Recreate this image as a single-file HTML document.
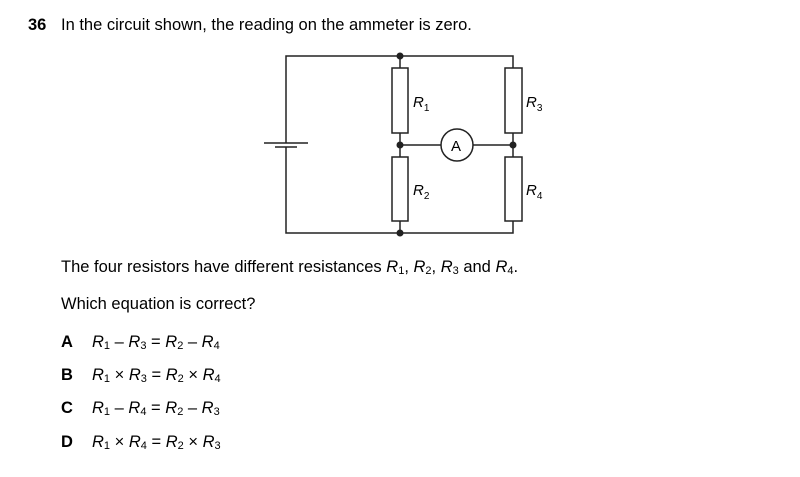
<!DOCTYPE html>
<html><head><meta charset="utf-8"><style>
html,body{margin:0;padding:0;background:#fff}
svg{display:block}
text{font-family:"Liberation Sans",Arial,sans-serif;fill:#000}
.i{font-style:italic}
</style></head><body>
<svg width="800" height="477" viewBox="0 0 800 477" xmlns="http://www.w3.org/2000/svg">
<text x="28" y="30" font-size="16.5" font-weight="bold">36</text>
<text x="61" y="30" font-size="16.5">In the circuit shown, the reading on the ammeter is zero.</text>
<g stroke="#222" stroke-width="1.5" fill="none">
<polyline points="286,143 286,56 513,56 513,68"/>
<polyline points="286,147 286,233 513,233 513,221"/>
<line x1="264" y1="143" x2="308" y2="143"/>
<line x1="275" y1="147" x2="297" y2="147"/>
<line x1="400" y1="56" x2="400" y2="68"/>
<line x1="400" y1="133" x2="400" y2="157"/>
<line x1="400" y1="221" x2="400" y2="233"/>
<line x1="513" y1="133" x2="513" y2="157"/>
<line x1="400" y1="145" x2="441" y2="145"/>
<line x1="473" y1="145" x2="513" y2="145"/>
<rect x="392" y="68" width="16" height="65" fill="#fff"/>
<rect x="392" y="157" width="16" height="64" fill="#fff"/>
<rect x="505" y="68" width="17" height="65" fill="#fff"/>
<rect x="505" y="157" width="17" height="64" fill="#fff"/>
<circle cx="457" cy="145" r="16" fill="#fff"/>
</g>
<g fill="#222">
<circle cx="400" cy="56" r="3.5"/><circle cx="400" cy="145" r="3.5"/>
<circle cx="400" cy="233" r="3.5"/><circle cx="513" cy="145" r="3.5"/>
</g>
<text x="451" y="151" font-size="15">A</text>
<text x="413" y="107" font-size="15" class="i">R<tspan font-size="10" dy="4" font-style="normal">1</tspan></text>
<text x="413" y="195" font-size="15" class="i">R<tspan font-size="10" dy="4" font-style="normal">2</tspan></text>
<text x="526" y="107" font-size="15" class="i">R<tspan font-size="10" dy="4" font-style="normal">3</tspan></text>
<text x="526" y="195" font-size="15" class="i">R<tspan font-size="10" dy="4" font-style="normal">4</tspan></text>
<text x="61" y="272" font-size="16.5">The four resistors have different resistances <tspan class="i">R</tspan><tspan font-size="11" dy="2">1</tspan><tspan dy="-2">, </tspan><tspan class="i">R</tspan><tspan font-size="11" dy="2">2</tspan><tspan dy="-2">, </tspan><tspan class="i">R</tspan><tspan font-size="11" dy="2">3</tspan><tspan dy="-2"> and </tspan><tspan class="i">R</tspan><tspan font-size="11" dy="2">4</tspan><tspan dy="-2">.</tspan></text>
<text x="61" y="309" font-size="16.5">Which equation is correct?</text>
<g font-size="16.5">
<text x="61" y="347" font-weight="bold">A</text>
<text x="92" y="347"><tspan class="i">R</tspan><tspan font-size="11" dy="2">1</tspan><tspan dy="-2"> – </tspan><tspan class="i">R</tspan><tspan font-size="11" dy="2">3</tspan><tspan dy="-2"> = </tspan><tspan class="i">R</tspan><tspan font-size="11" dy="2">2</tspan><tspan dy="-2"> – </tspan><tspan class="i">R</tspan><tspan font-size="11" dy="2">4</tspan></text>
<text x="61" y="380" font-weight="bold">B</text>
<text x="92" y="380"><tspan class="i">R</tspan><tspan font-size="11" dy="2">1</tspan><tspan dy="-2"> × </tspan><tspan class="i">R</tspan><tspan font-size="11" dy="2">3</tspan><tspan dy="-2"> = </tspan><tspan class="i">R</tspan><tspan font-size="11" dy="2">2</tspan><tspan dy="-2"> × </tspan><tspan class="i">R</tspan><tspan font-size="11" dy="2">4</tspan></text>
<text x="61" y="413" font-weight="bold">C</text>
<text x="92" y="413"><tspan class="i">R</tspan><tspan font-size="11" dy="2">1</tspan><tspan dy="-2"> – </tspan><tspan class="i">R</tspan><tspan font-size="11" dy="2">4</tspan><tspan dy="-2"> = </tspan><tspan class="i">R</tspan><tspan font-size="11" dy="2">2</tspan><tspan dy="-2"> – </tspan><tspan class="i">R</tspan><tspan font-size="11" dy="2">3</tspan></text>
<text x="61" y="447" font-weight="bold">D</text>
<text x="92" y="447"><tspan class="i">R</tspan><tspan font-size="11" dy="2">1</tspan><tspan dy="-2"> × </tspan><tspan class="i">R</tspan><tspan font-size="11" dy="2">4</tspan><tspan dy="-2"> = </tspan><tspan class="i">R</tspan><tspan font-size="11" dy="2">2</tspan><tspan dy="-2"> × </tspan><tspan class="i">R</tspan><tspan font-size="11" dy="2">3</tspan></text>
</g>
</svg>
</body></html>
